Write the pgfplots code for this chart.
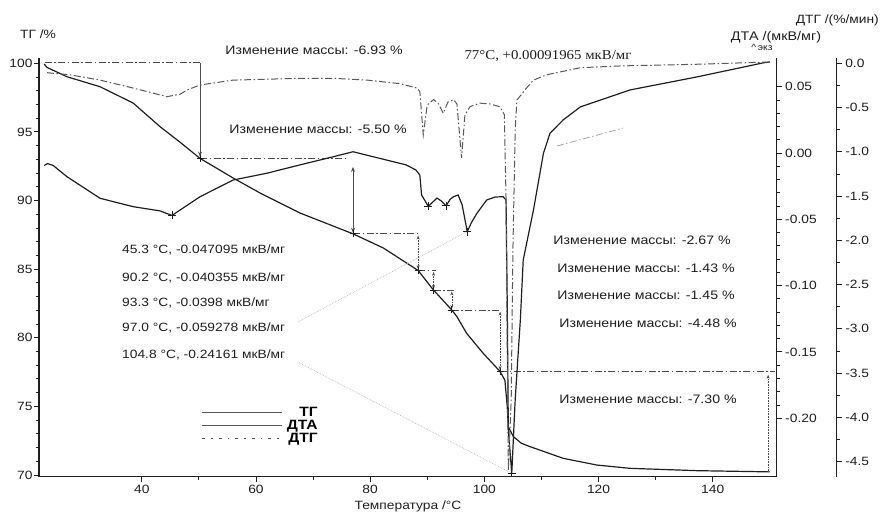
\documentclass[border=0pt]{standalone}
\usepackage{fontspec}
\setmainfont{Liberation Sans}[FakeStretch=1.15]
\newfontfamily\seriffont{Liberation Serif}[FakeStretch=1.1]
\usepackage{pgfplots}
\usepackage{pgfplotstable}
\pgfplotsset{compat=1.18}
\usetikzlibrary{arrows.meta}

\definecolor{ink}{gray}{0.12}
\definecolor{dtgc}{gray}{0.35}
\definecolor{helper}{gray}{0.3}

\tikzset{dashdot/.style={dash pattern=on 7pt off 2.5pt on 1.5pt off 2.5pt}}

% TG, %
\pgfplotstableread{
T TG
22.9 99.95
23.4 99.70
26.9 99.02
32.7 98.29
38.5 97.10
43.2 95.38
46.7 94.25
50.2 93.07
56.0 91.64
60.7 90.55
67.7 89.09
77.0 87.57
82.3 86.54
88.4 84.90
91.1 83.47
94.3 82.02
95.2 81.53
96.9 80.32
99.8 78.86
102.75 77.54
103.6 76.90
104.0 75.00
104.2 73.50
105.1 72.78
106.5 72.30
108.0 72.06
113.8 71.21
119.7 70.72
125.5 70.48
137.2 70.31
148.9 70.23
150.0 70.22
}\tgdata

% DTA, uV/mg
\pgfplotstableread{
T DTA
22.9 -0.0095
23.5 -0.0080
24.5 -0.0095
26.9 -0.0179
32.7 -0.0342
38.5 -0.0405
43.2 -0.0437
45.3 -0.047095
50.2 -0.0330
56.0 -0.0204
61.9 -0.0153
67.7 -0.0090
73.6 -0.0028
77.0 0.00091965
81.6 -0.0040
86.3 -0.0090
88.0 -0.0128
88.7 -0.0167
89.0 -0.0317
90.2 -0.040355
90.8 -0.0377
91.7 -0.0340
92.4 -0.0360
93.3 -0.0398
94.0 -0.0350
94.6 -0.0330
95.4 -0.0317
96.1 -0.0390
97.0 -0.059278
97.8 -0.0520
98.7 -0.0455
100.4 -0.0355
101.9 -0.0332
103.3 -0.0330
103.8 -0.0355
104.0 -0.1110
104.2 -0.2090
104.8 -0.24161
105.4 -0.1860
106.3 -0.1260
106.8 -0.0808
108.6 -0.0430
110.35 -0.0002
111.5 0.0149
113.8 0.0249
116.8 0.0347
125.5 0.0475
137.2 0.0573
148.8 0.0679
150.0 0.0686
}\dtadata

% DTG, %/min
\pgfplotstableread{
T DTG
23.4 -0.106
27.4 -0.13
32.7 -0.19
38.5 -0.28
44.4 -0.377
46.7 -0.35
48.0 -0.30
50.2 -0.245
56.0 -0.19
61.9 -0.18
67.7 -0.17
73.5 -0.17
79.5 -0.19
85.2 -0.23
88.2 -0.28
88.7 -0.32
89.3 -0.81
90.0 -0.47
91.1 -0.41
91.9 -0.45
92.8 -0.565
93.6 -0.44
94.6 -0.41
95.2 -0.46
96.0 -1.07
96.6 -0.58
97.5 -0.49
99.2 -0.45
101.0 -0.46
102.7 -0.49
103.5 -0.58
103.8 -1.54
104.0 -3.24
104.2 -4.60
104.7 -3.80
105.0 -2.10
105.4 -0.75
105.7 -0.415
106.4 -0.36
107.1 -0.30
108.6 -0.19
110.9 -0.13
116.8 -0.05
123.8 -0.03
137.8 -0.01
150.0 0.015
}\dtgdata

\pgfplotsset{
  base/.style={
    anchor=south west, scale only axis,
    width=737.7pt, height=418.7pt,
    xmin=22.0, xmax=151.2, clip=false,
    axis line style={-, line width=1.2pt, ink},
    tick style={ink, line width=0.8pt},
    tick align=outside,
    major tick length=5pt, minor tick length=3pt,
    tick label style={font=\fontsize{12}{13}\selectfont, text=ink},
  },
}

\begin{document}
\begin{tikzpicture}
\useasboundingbox (0,0) rectangle (881pt,514pt);

% TG axis (left, bottom)
\begin{axis}[base, at={(39pt,37.3pt)},
  axis x line*=bottom, axis y line*=left,
  ymin=69.87, ymax=100.386,
  xtick={40,60,80,100,120,140},
  xticklabels={40,60,80,100,120,140},
  minor x tick num=1,
  ytick={70,75,80,85,90,95,100},
  yticklabels={70,75,80,85,90,95,100},
  minor y tick num=4,
  yticklabel style={xshift=2pt},
  legend cell align=right,
  legend image code/.code={\draw[#1] (0pt,0pt) -- (80pt,0pt);},
  legend style={at={(axis cs:50.5,75.0)}, anchor=north west,
    draw=none, fill=none, inner sep=0pt,
    font=\fontsize{13.5}{14}\selectfont\bfseries,
    row sep=1.2pt, nodes={inner xsep=4pt, inner ysep=0.6pt}},
]
\addlegendimage{ink!75, line width=0.9pt}
\addlegendentry{ТГ}
\addlegendimage{ink!75, line width=0.9pt}
\addlegendentry{ДТА}
\addlegendimage{dtgc, line width=0.9pt, dash pattern=on 3pt off 6pt on 1.5pt off 6pt}
\addlegendentry{ДТГ}

\addplot[ink, line width=1.2pt, forget plot] table[x=T, y=TG] {\tgdata};

% mass-change steps
\addplot[only marks, mark=+, mark size=3.5pt, ink, line width=0.8pt, forget plot]
  coordinates {(50.2,93.07) (77.0,87.57) (88.4,84.90) (91.1,83.47)
               (94.3,82.02) (102.75,77.54)};

\draw[helper, line width=0.8pt, dashdot] (axis cs:23.0,100.05) -- (axis cs:50.2,100.05);
\draw[helper, line width=0.7pt, -{Stealth[length=5pt,width=4pt]}] (axis cs:50.2,100.0) -- (axis cs:50.2,93.2);
\draw[helper, line width=0.8pt, dashdot] (axis cs:50.2,93.07) -- (axis cs:76.0,93.07);
\draw[helper, line width=0.7pt, {Stealth[length=5pt,width=4pt]}-{Stealth[length=5pt,width=4pt]}] (axis cs:77.0,92.45) -- (axis cs:77.0,87.65);
\draw[helper, line width=0.8pt, dashdot] (axis cs:77.0,87.57) -- (axis cs:88.6,87.57);
\draw[helper, line width=0.6pt, densely dotted, {Stealth[length=4pt,width=3pt]}-{Stealth[length=4pt,width=3pt]}] (axis cs:88.4,87.45) -- (axis cs:88.4,85.0);
\draw[helper, line width=0.8pt, dashdot] (axis cs:88.4,84.90) -- (axis cs:91.6,84.90);
\draw[helper, line width=0.6pt, densely dotted, {Stealth[length=4pt,width=3pt]}-{Stealth[length=4pt,width=3pt]}] (axis cs:91.1,84.8) -- (axis cs:91.1,83.55);
\draw[helper, line width=0.8pt, dashdot] (axis cs:91.1,83.47) -- (axis cs:94.6,83.47);
\draw[helper, line width=0.6pt, densely dotted, {Stealth[length=4pt,width=3pt]}-{Stealth[length=4pt,width=3pt]}] (axis cs:94.3,83.37) -- (axis cs:94.3,82.1);
\draw[helper, line width=0.8pt, dashdot] (axis cs:94.3,82.02) -- (axis cs:102.5,82.02);
\draw[helper, line width=0.6pt, densely dotted, {Stealth[length=4pt,width=3pt]}-{Stealth[length=4pt,width=3pt]}] (axis cs:102.75,81.9) -- (axis cs:102.75,77.65);
\draw[helper, line width=0.8pt, dashdot] (axis cs:102.75,77.54) -- (axis cs:150.9,77.54);
\draw[helper, line width=0.6pt, densely dotted, -{Stealth[length=4pt,width=3pt]}] (axis cs:149.7,70.3) -- (axis cs:149.7,77.3);
\draw[gray!70, line width=0.8pt, dashdot] (axis cs:112.7,93.97) -- (axis cs:124.3,95.28);
\end{axis}

% DTA axis (right)
\begin{axis}[base, at={(39pt,37.3pt)},
  hide x axis, axis y line*=right,
  ymin=-0.2441, ymax=0.0716,
  ytick={-0.2,-0.15,-0.1,-0.05,0,0.05},
  yticklabels={-0.20,-0.15,-0.10,-0.05,0.00,0.05},
  minor y tick num=4,
]
\addplot[ink, line width=1.2pt] table[x=T, y=DTA] {\dtadata};
\addplot[only marks, mark=+, mark size=4pt, ink, line width=0.9pt]
  coordinates {(45.3,-0.047095) (90.2,-0.040355) (93.3,-0.0398)
               (97.0,-0.059278) (104.8,-0.24161)};
\draw[gray!55, line width=0.7pt, densely dotted] (axis cs:67.3,-0.1275) -- (axis cs:97.0,-0.059278);
\draw[gray!55, line width=0.7pt, densely dotted] (axis cs:67.3,-0.1576) -- (axis cs:104.8,-0.24161);
\end{axis}

% DTG curve
\begin{axis}[base, at={(39pt,37.3pt)}, hide axis,
  ymin=-4.671, ymax=0.0599]
\addplot[dtgc, line width=1pt, dashdot] table[x=T, y=DTG] {\dtgdata};
\end{axis}

% DTG scale, set off to the right
\begin{axis}[base, at={(99pt,37.3pt)},
  hide x axis, axis y line*=right,
  ymin=-4.671, ymax=0.0599,
  ytick={-4.5,-4,-3.5,-3,-2.5,-2,-1.5,-1,-0.5,0},
  yticklabels={-4.5,-4.0,-3.5,-3.0,-2.5,-2.0,-1.5,-1.0,-0.5,0.0},
  minor y tick num=1,
]
\end{axis}

% titles and annotations
\begin{scope}[every node/.style={text=ink, inner sep=0pt}]
\node[font=\fontsize{12}{14}\selectfont] at (38pt,480pt) {ТГ /\%};
\node[font=\fontsize{12}{14}\selectfont, anchor=east] at (879pt,494pt) {ДТГ /(\%/мин)};
\node[font=\fontsize{12.5}{14}\selectfont] at (776pt,477pt) {ДТА /(мкВ/мг)};
\node[font=\fontsize{9}{10}\selectfont] at (762pt,467pt) {\^{}\,экз};
\node[font=\fontsize{12}{14}\selectfont] at (408pt,8pt) {Температура /°C};

\node[font=\fontsize{12.3}{14}\selectfont] at (314pt,464pt) {Изменение массы: -6.93 \%};
\node[font=\fontsize{12.3}{14}\selectfont] at (318pt,385pt) {Изменение массы: -5.50 \%};
\node[font=\fontsize{13.5}{14}\seriffont] at (548pt,458pt) {77°C, +0.00091965 мкВ/мг};

\node[font=\fontsize{12}{14}\selectfont, anchor=west] at (122pt,264pt) {45.3 °C, -0.047095 мкВ/мг};
\node[font=\fontsize{12}{14}\selectfont, anchor=west] at (122pt,236pt) {90.2 °C, -0.040355 мкВ/мг};
\node[font=\fontsize{12}{14}\selectfont, anchor=west] at (122pt,211pt) {93.3 °C, -0.0398 мкВ/мг};
\node[font=\fontsize{12}{14}\selectfont, anchor=west] at (122pt,186pt) {97.0 °C, -0.059278 мкВ/мг};
\node[font=\fontsize{12}{14}\selectfont, anchor=west] at (122pt,159pt) {104.8 °C, -0.24161 мкВ/мг};

\node[font=\fontsize{12.3}{14}\selectfont] at (642pt,274pt) {Изменение массы: -2.67 \%};
\node[font=\fontsize{12.3}{14}\selectfont] at (646pt,246pt) {Изменение массы: -1.43 \%};
\node[font=\fontsize{12.3}{14}\selectfont] at (646pt,219pt) {Изменение массы: -1.45 \%};
\node[font=\fontsize{12.3}{14}\selectfont] at (648pt,191pt) {Изменение массы: -4.48 \%};
\node[font=\fontsize{12.3}{14}\selectfont] at (648pt,115pt) {Изменение массы: -7.30 \%};
\end{scope}
\end{tikzpicture}
\end{document}
